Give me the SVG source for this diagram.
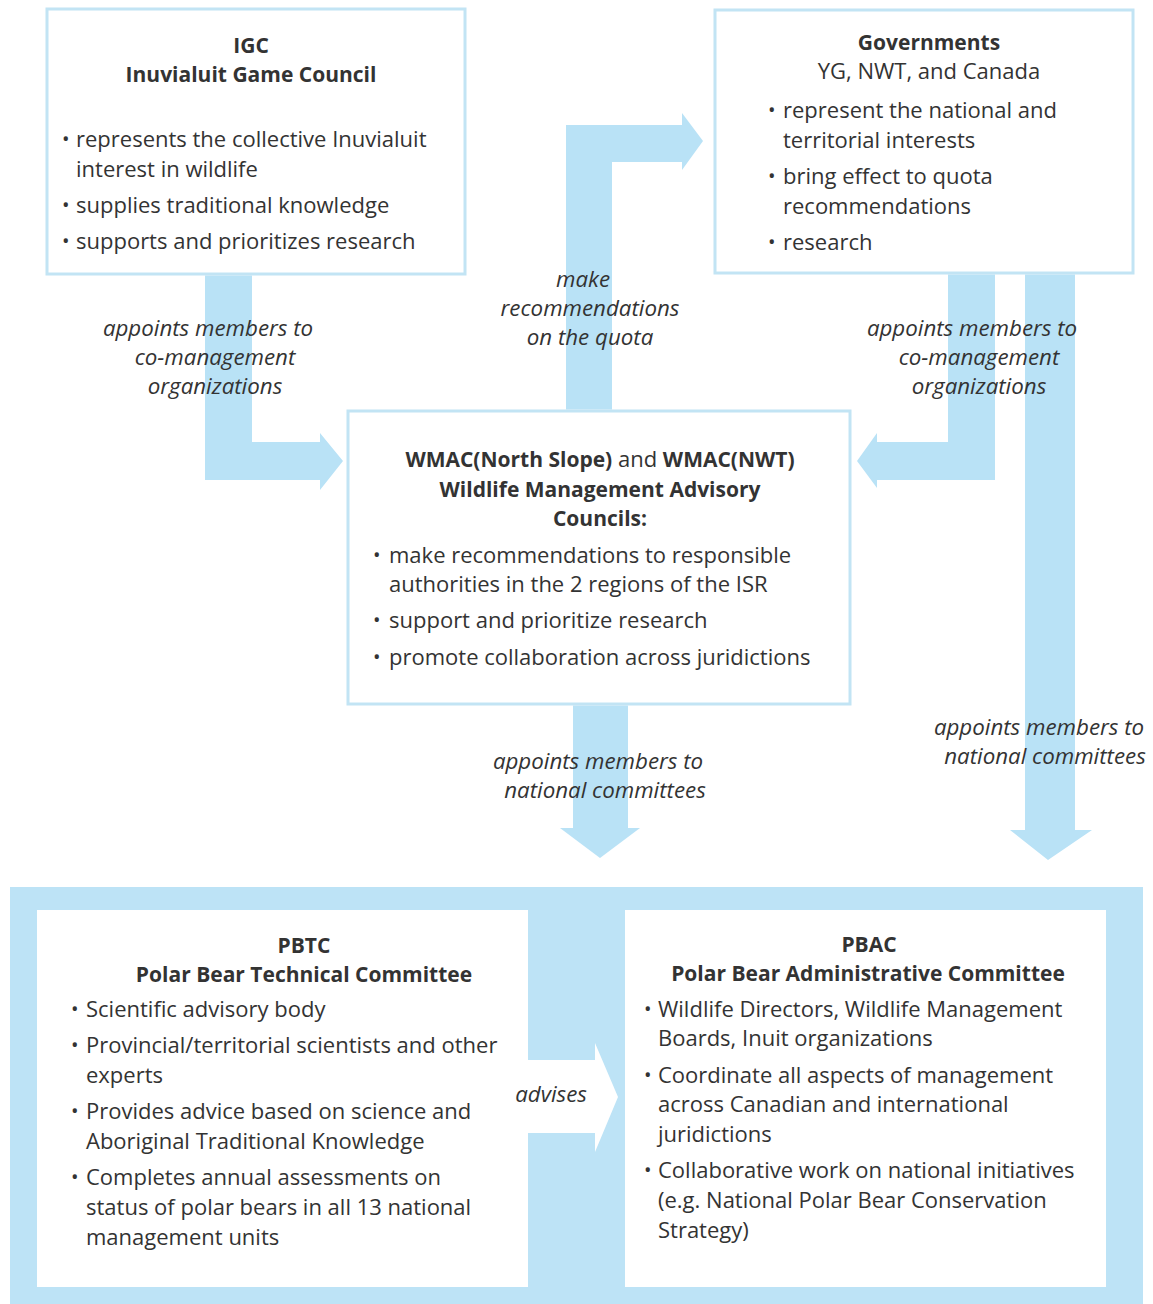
<svg xmlns="http://www.w3.org/2000/svg" width="1153" height="1304" viewBox="0 0 1153 1304">
  <style>
    .box { fill: #ffffff; stroke: #c2e4f4; stroke-width: 3; }
    .flow { fill: #b9e2f6; }
    .txt { font-family: "Open Sans", "Noto Sans", "Liberation Sans", sans-serif; font-size: 22px; fill: #333333; }
    .b { font-weight: bold; font-size: 21px; }
    .c { text-anchor: middle; }
    .dot { font-family: "Open Sans", "Noto Sans", "Liberation Sans", sans-serif; font-size: 20px; fill: #333333; }
    .lbl { font-family: "Open Sans", "Noto Sans", "Liberation Sans", sans-serif; font-size: 22.3px; font-style: italic; fill: #333333; text-anchor: middle; }
  </style>

  <rect width="1153" height="1304" fill="#ffffff"/>

  <!-- national committee band -->
  <rect id="national-band" x="10" y="887" width="1133" height="417" fill="#bde3f6"/>

  <g id="igc">
    <rect class="box" x="47" y="9" width="418" height="265"/>
    <text class="txt b c" x="251" y="53">IGC</text>
    <text class="txt b c" x="251" y="82">Inuvialuit Game Council</text>
    <text class="dot" x="62" y="146">•</text>
    <text class="txt" x="76" y="147">represents the collective Inuvialuit</text>
    <text class="txt" x="76" y="177">interest in wildlife</text>
    <text class="dot" x="62" y="212">•</text>
    <text class="txt" x="76" y="213">supplies traditional knowledge</text>
    <text class="dot" x="62" y="248">•</text>
    <text class="txt" x="76" y="249">supports and prioritizes research</text>
  </g>

  <g id="governments">
    <rect class="box" x="715" y="10" width="418" height="263"/>
    <text class="txt b c" x="929" y="50">Governments</text>
    <text class="txt c" x="929" y="79">YG, NWT, and Canada</text>
    <text class="dot" x="768" y="117">•</text>
    <text class="txt" x="783" y="118">represent the national and</text>
    <text class="txt" x="783" y="148">territorial interests</text>
    <text class="dot" x="768" y="183">•</text>
    <text class="txt" x="783" y="184">bring effect to quota</text>
    <text class="txt" x="783" y="214">recommendations</text>
    <text class="dot" x="768" y="249">•</text>
    <text class="txt" x="783" y="250">research</text>
  </g>

  <g id="wmac">
    <rect class="box" x="348" y="411" width="502" height="293"/>
    <text class="txt c" x="600" y="467"><tspan class="b">WMAC(North Slope)</tspan> and <tspan class="b">WMAC(NWT)</tspan></text>
    <text class="txt b c" x="600" y="497">Wildlife Management Advisory</text>
    <text class="txt b c" x="600" y="526">Councils:</text>
    <text class="dot" x="373" y="562">•</text>
    <text class="txt" x="389" y="563">make recommendations to responsible</text>
    <text class="txt" x="389" y="592">authorities in the 2 regions of the ISR</text>
    <text class="dot" x="373" y="627">•</text>
    <text class="txt" x="389" y="628">support and prioritize research</text>
    <text class="dot" x="373" y="664">•</text>
    <text class="txt" x="389" y="665">promote collaboration across juridictions</text>
  </g>

  <g id="pbtc">
    <rect x="37" y="910" width="491" height="377" fill="#ffffff"/>
    <text class="txt b c" x="304" y="953">PBTC</text>
    <text class="txt b c" x="304" y="982">Polar Bear Technical Committee</text>
    <text class="dot" x="71" y="1016">•</text>
    <text class="txt" x="86" y="1017">Scientific advisory body</text>
    <text class="dot" x="71" y="1052">•</text>
    <text class="txt" x="86" y="1053">Provincial/territorial scientists and other</text>
    <text class="txt" x="86" y="1083">experts</text>
    <text class="dot" x="71" y="1118">•</text>
    <text class="txt" x="86" y="1119">Provides advice based on science and</text>
    <text class="txt" x="86" y="1149">Aboriginal Traditional Knowledge</text>
    <text class="dot" x="71" y="1184">•</text>
    <text class="txt" x="86" y="1185">Completes annual assessments on</text>
    <text class="txt" x="86" y="1215">status of polar bears in all 13 national</text>
    <text class="txt" x="86" y="1245">management units</text>
  </g>

  <g id="pbac">
    <rect x="625" y="910" width="481" height="377" fill="#ffffff"/>
    <text class="txt b c" x="869" y="952">PBAC</text>
    <text class="txt b c" x="868" y="981">Polar Bear Administrative Committee</text>
    <text class="dot" x="644" y="1016">•</text>
    <text class="txt" x="658" y="1017">Wildlife Directors, Wildlife Management</text>
    <text class="txt" x="658" y="1046">Boards, Inuit organizations</text>
    <text class="dot" x="644" y="1082">•</text>
    <text class="txt" x="658" y="1083">Coordinate all aspects of management</text>
    <text class="txt" x="658" y="1112">across Canadian and international</text>
    <text class="txt" x="658" y="1142">juridictions</text>
    <text class="dot" x="644" y="1177">•</text>
    <text class="txt" x="658" y="1178">Collaborative work on national initiatives</text>
    <text class="txt" x="658" y="1208">(e.g. National Polar Bear Conservation</text>
    <text class="txt" x="658" y="1238">Strategy)</text>
  </g>

  <g id="connectors">
    <!-- IGC -> WMAC -->
    <path class="flow" d="M205,275.5 H252 V442 H320 V433 L343,461 L320,490 V480 H205 Z"/>
    <!-- WMAC -> Governments -->
    <path class="flow" d="M566,409.5 V125 H682 V113 L703,141 L682,170 V162 H612 V409.5 Z"/>
    <!-- Governments -> WMAC -->
    <path class="flow" d="M995,274.5 V480 H877 V488 L857,461 L877,433 V442 H948 V274.5 Z"/>
    <!-- Governments -> national committees -->
    <path class="flow" d="M1025,274.5 H1075 V830 H1092 L1048,860 L1010,830 H1025 Z"/>
    <!-- WMAC -> national committees -->
    <path class="flow" d="M573,705.5 H628 V828 H640 L600,858 L560,828 H573 Z"/>
    <!-- PBTC -> PBAC -->
    <path fill="#ffffff" d="M527,1060 H595 V1043 L618,1097 L595,1152 V1133 H527 Z"/>

    <text class="lbl" x="208" y="336">appoints members to</text>
    <text class="lbl" x="215" y="365">co-management</text>
    <text class="lbl" x="215" y="394">organizations</text>

    <text class="lbl" x="583" y="287">make</text>
    <text class="lbl" x="590" y="316">recommendations</text>
    <text class="lbl" x="590" y="345">on the quota</text>

    <text class="lbl" x="972" y="336">appoints members to</text>
    <text class="lbl" x="979" y="365">co-management</text>
    <text class="lbl" x="979" y="394">organizations</text>

    <text class="lbl" x="1039" y="735">appoints members to</text>
    <text class="lbl" x="1045" y="764">national committees</text>

    <text class="lbl" x="598" y="769">appoints members to</text>
    <text class="lbl" x="605" y="798">national committees</text>

    <text class="lbl" x="551" y="1102">advises</text>
  </g>
</svg>
